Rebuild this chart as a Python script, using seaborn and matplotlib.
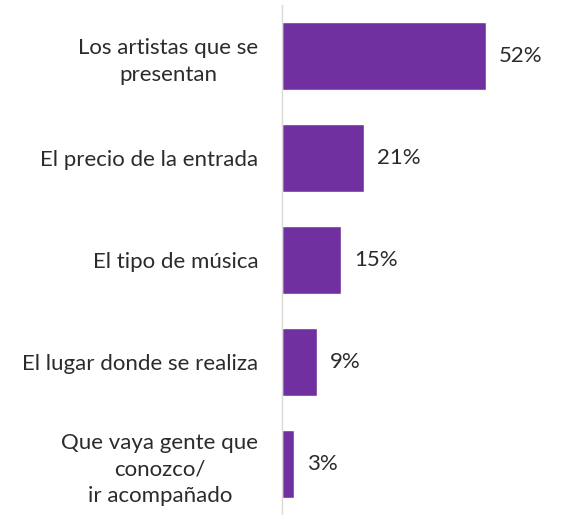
import matplotlib
matplotlib.use("Agg")
import matplotlib.pyplot as plt
import seaborn as sns
import pandas as pd

categories = [
    "Los artistas que se\npresentan",
    "El precio de la entrada",
    "El tipo de música",
    "El lugar donde se realiza",
    "Que vaya gente que\nconozco/\nir acompañado",
]
values = [52, 21, 15, 9, 3]
value_labels = ["52%", "21%", "15%", "9%", "3%"]

df = pd.DataFrame({"motivo": categories, "pct": values})

sns.set_theme(style="white")
plt.rcParams["font.family"] = ["Lato", "DejaVu Sans"]

fig = plt.figure(figsize=(5.81, 5.15), dpi=100)
ax = fig.add_axes([282 / 581, 0.0, 278 / 581, 510 / 515])

sns.barplot(data=df, y="motivo", x="pct", orient="h", color="#7030A0",
            saturation=1, width=0.66, ax=ax)

ax.set_xlim(0, 70.9)
ax.set_ylim(4.5, -0.5)
ax.set_xlabel("")
ax.set_ylabel("")
ax.set_xticks([])

for spine in ["top", "right", "bottom"]:
    ax.spines[spine].set_visible(False)
ax.spines["left"].set_color("#d9d9d9")
ax.spines["left"].set_linewidth(1.0)

# category labels, centred lines, no major tick marks
ax.tick_params(axis="y", which="major", length=0, pad=17, labelsize=16,
               labelcolor="#2b2b2b")
for lbl in ax.get_yticklabels():
    lbl.set_multialignment("center")
    lbl.set_linespacing(1.42)

# small tick marks between categories
ax.set_yticks([i + 0.5 for i in range(-1, 5)], minor=True)
ax.tick_params(axis="y", which="minor", length=5, width=1.0, color="#d9d9d9",
               direction="out")

for i, (v, txt) in enumerate(zip(values, value_labels)):
    ax.text(v + 3.3, i, txt, va="center", ha="left", fontsize=16,
            color="#2b2b2b")

fig.savefig("out.png", dpi=100)
